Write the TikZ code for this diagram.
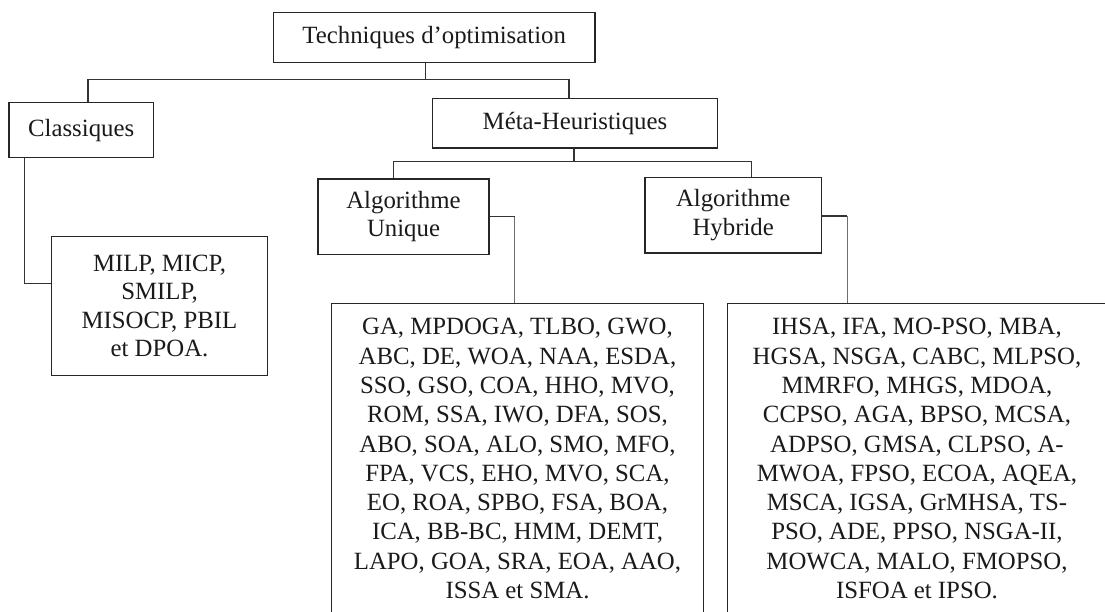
\documentclass[tikz,border=0pt]{standalone}
\usepackage{fontspec}
\setmainfont{Liberation Serif}
\definecolor{boxline}{HTML}{262626}
\definecolor{connc}{HTML}{333333}
\definecolor{connl}{HTML}{6E6E6E}
\definecolor{textc}{HTML}{1A1A1A}
\begin{document}
\begin{tikzpicture}[x=1pt,y=-1pt,
  box/.style={draw=boxline, line width=1.5pt, inner sep=0pt, align=center,
    font=\fontsize{24.8}{28.5}\selectfont, text=textc},
  listbox/.style={draw=boxline, line width=1.5pt, inner xsep=5pt, inner ysep=15pt,
    anchor=north, font=\fontsize{24.8}{29.3}\selectfont, text=textc},
  conn/.style={draw=connc, line width=1.3pt},
  connlight/.style={draw=connl, line width=1.3pt}]
\useasboundingbox (0,0) rectangle (1105,612);
\clip (0,0) rectangle (1105,612);

% tree nodes
\node[box, minimum width=321.7pt, minimum height=50pt] (top) at (434.2,37.3) {Techniques d’optimisation};
\node[box, minimum width=144.3pt, minimum height=55pt] (cls) at (81.2,130.2) {Classiques};
\node[box, minimum width=285.4pt, minimum height=49.7pt] (meta) at (575,123.2) {Méta-Heuristiques};
\node[box, minimum width=171pt, minimum height=75.3pt] (uni) at (403.5,216.7) {Algorithme\\Unique};
\node[box, minimum width=176.3pt, minimum height=75.7pt] (hyb) at (733.2,215.2) {Algorithme\\Hybride};
\node[box, minimum width=215.6pt, minimum height=139pt] (milp) at (159.5,306.2) {MILP, MICP,\\SMILP,\\MISOCP, PBIL\\et DPOA.};

% algorithm lists (boxes run past the lower edge)
\node[listbox] (ulist) at (517.5,302.7) {\parbox[t][318pt][t]{361.6pt}{\centering
  GA, MPDOGA, TLBO, GWO,\\
  ABC, DE, WOA, NAA, ESDA,\\
  SSO, GSO, COA, HHO, MVO,\\
  ROM, SSA, IWO, DFA, SOS,\\
  ABO, SOA, ALO, SMO, MFO,\\
  FPA, VCS, EHO, MVO, SCA,\\
  EO, ROA, SPBO, FSA, BOA,\\
  ICA, BB-BC, HMM, DEMT,\\
  LAPO, GOA, SRA, EOA, AAO,\\
  ISSA et SMA.\par}};
\node[listbox] (hlist) at (917,302.7) {\parbox[t][318pt][t]{368.6pt}{\centering
  IHSA, IFA, MO-PSO, MBA,\\
  HGSA, NSGA, CABC, MLPSO,\\
  MMRFO, MHGS, MDOA,\\
  CCPSO, AGA, BPSO, MCSA,\\
  ADPSO, GMSA, CLPSO, A-\\
  MWOA, FPSO, ECOA, AQEA,\\
  MSCA, IGSA, GrMHSA, TS-\\
  PSO, ADE, PPSO, NSGA-II,\\
  MOWCA, MALO, FMOPSO,\\
  ISFOA et IPSO.\par}};

% junction points
\coordinate (bus1L) at (88,79.5);
\coordinate (bus1M) at (425.7,79.5);
\coordinate (bus1R) at (569,79.5);
\coordinate (bus2L) at (393.3,161.5);
\coordinate (bus2M) at (574,161.5);
\coordinate (bus2R) at (751.7,161.5);
\coordinate (c1) at (24.7,283.3);
\coordinate (u1) at (514.7,216.7);
\coordinate (h1) at (847.3,216);

% connectors
\draw[conn] (top.south -| bus1M) -- (bus1M);
\draw[conn] (cls.north -| bus1L) -- (bus1L) -- (bus1R) -- (meta.north -| bus1R);
\draw[conn] (meta.south -| bus2M) -- (bus2M);
\draw[conn] (uni.north -| bus2L) -- (bus2L) -- (bus2R) -- (hyb.north -| bus2R);
\draw[conn] (cls.south -| c1) -- (c1) -- (c1 -| milp.west);
\draw[conn] (u1 -| uni.east) -- (u1);
\draw[connlight] (u1) -- (ulist.north -| u1);
\draw[conn] (h1 -| hyb.east) -- (h1);
\draw[connlight] (h1) -- (hlist.north -| h1);
\end{tikzpicture}
\end{document}
